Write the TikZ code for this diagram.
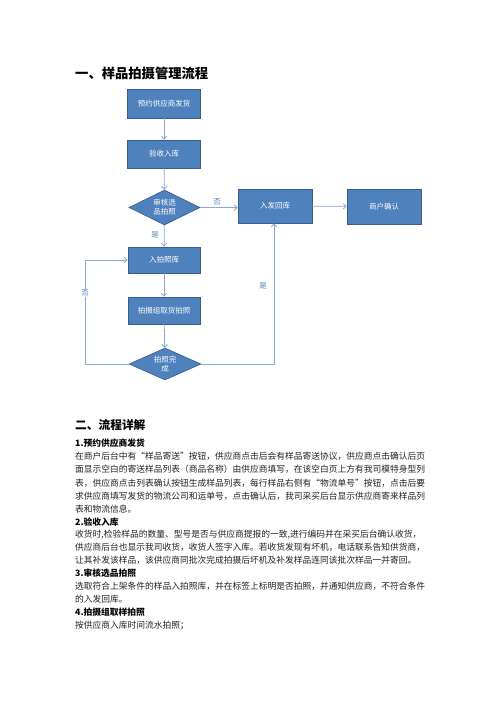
\documentclass[tikz,border=0pt]{standalone}
\usepackage{fontspec}
\setmainfont{Noto Sans CJK SC}
\usetikzlibrary{shapes.geometric,arrows.meta}
\XeTeXlinebreaklocale "zh"
\XeTeXlinebreakskip=0pt plus 3pt
\definecolor{boxfill}{HTML}{4F81BD}
\definecolor{boxline}{HTML}{385D8A}
\definecolor{conn}{HTML}{8BA7D3}
\definecolor{lbl}{HTML}{5A80B8}
\definecolor{body}{HTML}{222222}
\newcommand{\bodysize}{\fontsize{8.75}{10}\selectfont}
\newcommand{\jline}[1]{\hbox to 372pt{#1}}
\tikzset{
  flowbox/.style={rectangle, draw=boxline, fill=boxfill, line width=0.6pt, text=white,
    font=\fontsize{7.5}{9}\selectfont, inner sep=0pt, align=center},
  flowdia/.style={diamond, draw=boxline, fill=boxfill, line width=0.6pt, text=white,
    font=\fontsize{7.5}{9}\selectfont, inner sep=0pt, align=center, aspect=2},
  conline/.style={draw=conn, line width=0.8pt, -{Straight Barb[length=3pt,width=5.5pt]}},
  elabel/.style={text=lbl, font=\fontsize{7.5}{9}\selectfont, inner sep=1pt},
  bodyline/.style={anchor=west, inner sep=0pt, text=body, font=\bodysize},
  headline/.style={anchor=west, inner sep=0pt, text=black, font=\bodysize\bfseries},
}
\begin{document}
\begin{tikzpicture}[x=1pt,y=-1pt]
\useasboundingbox[fill=white] (0,0) rectangle (496,702);

% titles
\node[anchor=west, inner sep=0pt, font=\fontsize{13.3}{15}\selectfont\bfseries] (t1) at (75,73) {一、样品拍摄管理流程};

% flowchart nodes
\node[flowbox, minimum width=73pt, minimum height=29pt] (b1) at (164,103.5) {预约供应商发货};
\node[flowbox, minimum width=73pt, minimum height=28pt] (b2) at (164,154) {验收入库};
\node[flowdia, minimum width=71pt, minimum height=35pt] (d1) at (164.5,207.5) {审核选\\品拍照};
\node[flowbox, minimum width=74pt, minimum height=34pt] (b3) at (275,206) {入发回库};
\node[flowbox, minimum width=74pt, minimum height=35pt] (b4) at (384,206.5) {商户确认};
\node[flowbox, minimum width=72pt, minimum height=26pt] (b5) at (164,260) {入拍照库};
\node[flowbox, minimum width=72pt, minimum height=27pt] (b6) at (164,310.5) {拍摄组取货拍照};
\node[flowdia, minimum width=72pt, minimum height=32pt] (d2) at (165,364) {拍照完\\成};

\coordinate (lp1) at (85,364);
\coordinate (lp2) at (85,260);
\coordinate (rp1) at (274,364);

% connectors
\draw[conline] (b1) -- (b2);
\draw[conline] (b2) -- (d1);
\draw[conline] (d1.east) -- (b3.west |- d1.east);
\draw[conline] (d1) -- (b5);
\draw[conline] (b3) -- (b4);
\draw[conline] (b5) -- (b6);
\draw[conline] (b6) -- (d2);
\draw[conline] (d2.west) -- (lp1) -- (lp2) -- (b5.west);
\draw[conline] (d2.east) -- (rp1) -- (rp1 |- b3.south);

% edge labels
\node[elabel] (l1) at (217,202) {否};
\node[elabel] (l2) at (155,235) {是};
\node[elabel, fill=white] (l3) at (85,293) {否};
\node[elabel] (l4) at (263,286) {是};

% section 2
\node[anchor=west, inner sep=0pt, font=\fontsize{11.7}{13}\selectfont\bfseries] (t2) at (75,425) {二、流程详解};

\node[headline] (h1) at (75,443) {1.预约供应商发货};
\node[bodyline] (p1) at (75,456) {\jline{在商户后台中有“样品寄送”按钮，供应商点击后会有样品寄送协议，供应商点击确认后页}};
\node[bodyline] (p2) at (75,469.5) {\jline{面显示空白的寄送样品列表（商品名称）由供应商填写，在该空白页上方有我司模特身型列}};
\node[bodyline] (p3) at (75,483) {\jline{表，供应商点击列表确认按钮生成样品列表，每行样品右侧有“物流单号”按钮，点击后要}};
\node[bodyline] (p4) at (75,496) {\jline{求供应商填写发货的物流公司和运单号，点击确认后，我司采买后台显示供应商寄来样品列}};
\node[bodyline] (p5) at (75,509) {表和物流信息。};

\node[headline] (h2) at (75,522) {2.验收入库};
\node[bodyline] (q1) at (75,534.5) {\jline{收货时,检验样品的数量、型号是否与供应商提报的一致,进行编码并在采买后台确认收货，}};
\node[bodyline] (q2) at (75,547.5) {\jline{供应商后台也显示我司收货，收货人签字入库。若收货发现有坏机，电话联系告知供货商，}};
\node[bodyline] (q3) at (75,560.5) {让其补发该样品，该供应商同批次完成拍摄后坏机及补发样品连同该批次样品一并寄回。};

\node[headline] (h3) at (75,573) {3.审核选品拍照};
\node[bodyline] (r1) at (75,586) {选取符合上架条件的样品入拍照库，并在标签上标明是否拍照，并通知供应商，不符合条件};
\node[bodyline] (r2) at (75,599) {的入发回库。};

\node[headline] (h4) at (75,612.5) {4.拍摄组取样拍照};
\node[bodyline] (s1) at (75,625.5) {按供应商入库时间流水拍照；};
\end{tikzpicture}
\end{document}
